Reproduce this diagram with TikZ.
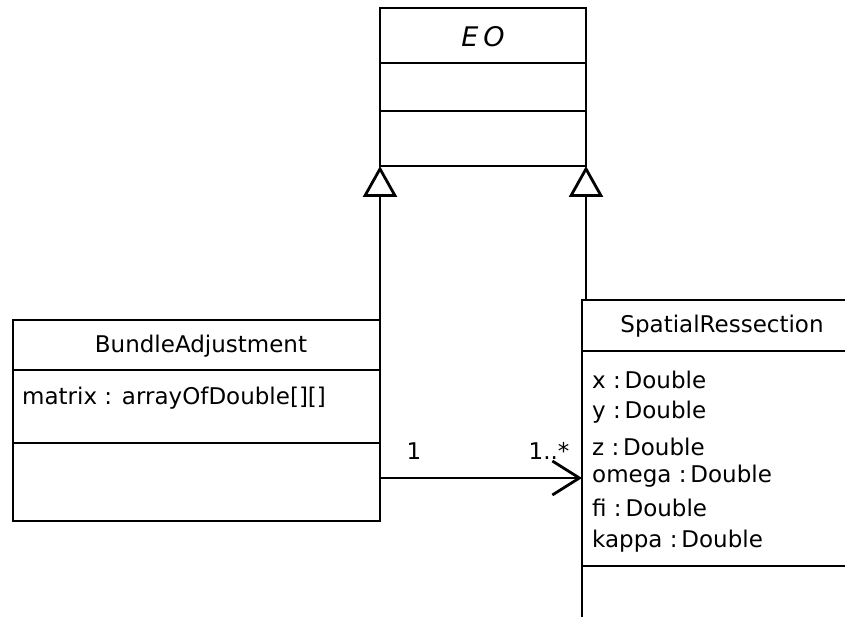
\documentclass[tikz,border=0pt]{standalone}
\usepackage{fontspec}
\setmainfont{DejaVu Sans}
\usetikzlibrary{arrows.meta}
\tikzset{
  umlbox/.style={draw, line width=2.8pt, inner sep=0pt, outer sep=0pt, anchor=north west},
  sepline/.style={line width=2.8pt},
  title/.style={font=\fontsize{23}{26}\selectfont, inner sep=0pt},
  attr/.style={font=\fontsize{23}{26}\selectfont, inner sep=0pt, anchor=west},
  mult/.style={font=\fontsize{23}{26}\selectfont, inner sep=0pt},
  inherit/.style={line width=2.8pt, -{Triangle[open, length=31pt, width=34pt, line width=2.8pt]}},
  assoc/.style={line width=2.8pt, -{Straight Barb[length=27pt, width=34pt, line width=2.8pt]}}
}
\begin{document}
\begin{tikzpicture}[x=1pt,y=-1pt]
\useasboundingbox (0,0) rectangle (845,617);
\clip (0,0) rectangle (845,617);
% EO
\node[umlbox, minimum width=206pt, minimum height=158pt] (eo) at (380,8) {};
\draw[sepline] (380,63) -- (586,63);
\draw[sepline] (380,111) -- (586,111);
\node[title, font=\fontsize{27}{30}\selectfont] (eot) at (483,37) {\itshape E\hspace{5pt}O};
% BundleAdjustment
\node[umlbox, minimum width=367pt, minimum height=201pt] (ba) at (13,320) {};
\draw[sepline] (13,370) -- (380,370);
\draw[sepline] (13,443) -- (380,443);
\node[title] (bat) at (201,346) {BundleAdjustment};
\node[attr] (bam) at (22,398) {matrix : arrayOfDouble[][]};
% SpatialRessection
\node[umlbox, minimum width=280pt, minimum height=340pt] (sr) at (582,300) {};
\draw[sepline] (582,351) -- (850,351);
\draw[sepline] (582,566) -- (850,566);
\node[title] (srt) at (722,326) {SpatialRessection};
\node[attr] (a1) at (592,380) {x :\,Double};
\node[attr] (a2) at (592,412) {y :\,Double};
\node[attr] (a3) at (592,447) {z :\,Double};
\node[attr] (a4) at (592,476) {omega :\,Double};
\node[attr] (a5) at (592,508) {fi :\,Double};
\node[attr] (a6) at (592,541) {kappa :\,Double};
% inheritance
\draw[inherit] (ba.north east) -- (eo.south west);
\draw[inherit] ([xshift=4pt]sr.north west) -- (eo.south east);
% association
\coordinate (as) at ([yshift=-57.5pt]ba.east);
\draw[assoc] (as) -- (as -| sr.west);
\node[mult] (m1) at (414,451) {1};
\node[mult] (m2) at (549,451) {1..*};
\end{tikzpicture}
\end{document}
